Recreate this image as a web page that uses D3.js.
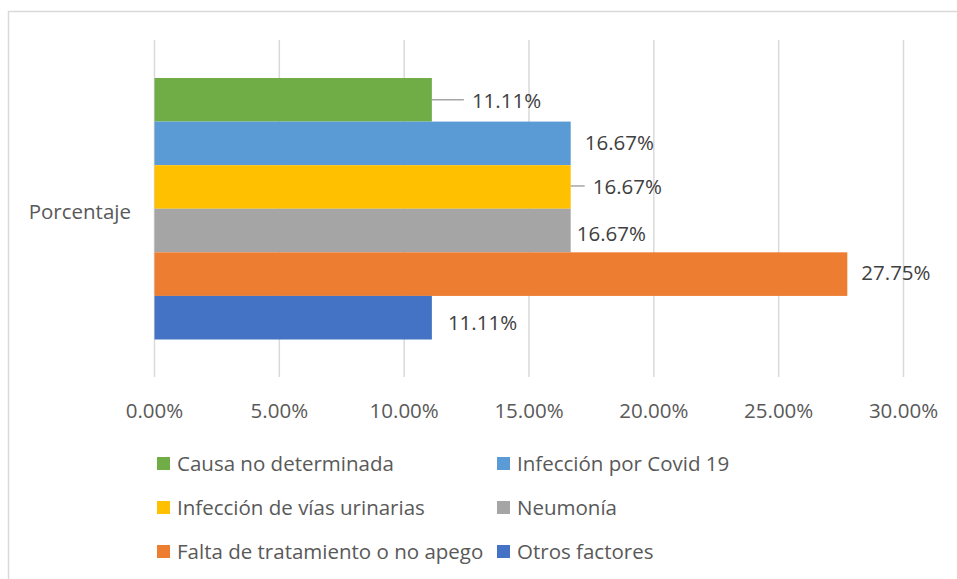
<!DOCTYPE html>
<html>
<head>
<meta charset="utf-8">
<title>Porcentaje</title>
<script src="https://cdn.jsdelivr.net/npm/d3@7"></script>
<style>
  body { margin: 0; background: #fff; }
  svg text { font-family: "Open Sans", "Noto Sans", sans-serif; }
  .grid line { stroke: #d9d9d9; stroke-width: 1.5; }
  .tick-label { fill: #595959; font-size: 20.5px; }
  .data-label { fill: #404040; font-size: 20.5px; }
  .legend text { fill: #595959; font-size: 20.5px; }
</style>
</head>
<body>
<svg width="957" height="579"></svg>
<script>
// series, top to bottom as drawn
var series = ["Causa no determinada", "Infección por Covid 19", "Infección de vías urinarias",
              "Neumonía", "Falta de tratamiento o no apego", "Otros factores"];
var values = [11.11, 16.67, 16.67, 16.67, 27.75, 11.11];
var colors = ["#70ad47", "#5b9bd5", "#ffc000", "#a5a5a5", "#ed7d31", "#4472c4"];
var ticks = [0, 5, 10, 15, 20, 25, 30];
var category = "Porcentaje";

// labels were nudged by hand in the original (dx, dy in px, leader line or not)
var labelShift = [[40, 1, true], [14, 0, false], [22, 0, true], [6, 3, false], [14, -1, false], [16, 5, false]];

var svg = d3.select("svg");

// chart frame (runs off the right and bottom edge)
svg.append("rect")
    .attr("x", 8.5).attr("y", 11.5)
    .attr("width", 1000).attr("height", 700)
    .attr("fill", "none").attr("stroke", "#d9d9d9").attr("stroke-width", 1.5);

var x = d3.scaleLinear().domain([0, 30]).range([154.5, 903.5]);
var plotTop = 40, plotBottom = 377;
var y = d3.scaleBand().domain(series).range([78, 339.5]);

svg.append("g").attr("class", "grid")
  .selectAll("line").data(ticks).enter().append("line")
    .attr("x1", function(d) { return x(d); })
    .attr("x2", function(d) { return x(d); })
    .attr("y1", plotTop).attr("y2", plotBottom);

svg.append("g")
  .selectAll("text").data(ticks).enter().append("text")
    .attr("class", "tick-label")
    .attr("x", function(d) { return x(d); })
    .attr("y", 417.5)
    .attr("text-anchor", "middle")
    .text(function(d) { return d.toFixed(2) + "%"; });

svg.append("text")
    .attr("class", "tick-label")
    .attr("x", 131).attr("y", 219)
    .attr("text-anchor", "end")
    .text(category);

var rows = series.map(function(s, i) { return { name: s, v: values[i], c: colors[i], sh: labelShift[i] }; });

svg.append("g")
  .selectAll("rect").data(rows).enter().append("rect")
    .attr("x", x(0))
    .attr("y", function(d) { return y(d.name); })
    .attr("width", function(d) { return x(d.v) - x(0); })
    .attr("height", y.bandwidth())
    .attr("fill", function(d) { return d.c; });

var lab = svg.append("g").selectAll("g").data(rows).enter().append("g");

lab.filter(function(d) { return d.sh[2]; }).append("line")
    .attr("x1", function(d) { return x(d.v); })
    .attr("x2", function(d) { return x(d.v) + d.sh[0] - 8; })
    .attr("y1", function(d) { return y(d.name) + y.bandwidth() / 2 + d.sh[1] - 1; })
    .attr("y2", function(d) { return y(d.name) + y.bandwidth() / 2 + d.sh[1] - 1; })
    .attr("stroke", "#a6a6a6").attr("stroke-width", 1.5);

lab.append("text")
    .attr("class", "data-label")
    .attr("x", function(d) { return x(d.v) + d.sh[0]; })
    .attr("y", function(d) { return y(d.name) + y.bandwidth() / 2 + d.sh[1] + 7; })
    .text(function(d) { return d.v.toFixed(2) + "%"; });

// legend, two columns
var leg = svg.append("g").attr("class", "legend")
  .selectAll("g").data(rows).enter().append("g")
    .attr("transform", function(d, i) {
      return "translate(" + (i % 2 ? 497 : 157) + "," + (464 + Math.floor(i / 2) * 44) + ")";
    });

leg.append("rect")
    .attr("x", 0).attr("y", -7)
    .attr("width", 13).attr("height", 13)
    .attr("fill", function(d) { return d.c; });

leg.append("text")
    .attr("x", 20).attr("y", 7)
    .text(function(d) { return d.name; });
</script>
</body>
</html>
